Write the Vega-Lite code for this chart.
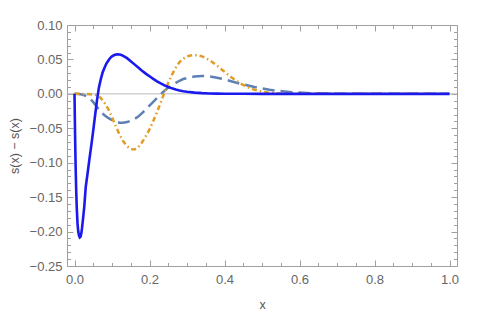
{
  "$schema": "https://vega.github.io/schema/vega-lite/v6.json",
  "width": 390,
  "height": 241,
  "autosize": "none",
  "padding": {"left": 67, "top": 25, "right": 28, "bottom": 49},
  "background": "white",
  "config": {
    "view": {"stroke": "#a0a0a0", "strokeWidth": 1},
    "font": "Liberation Sans",
    "axis": {"domain": false, "grid": false, "tickColor": "#a0a0a0", "labelColor": "#666666", "labelFontSize": 13, "titleColor": "#555555", "titleFontWeight": "normal", "titleFontSize": 12.5, "labelFont": "Liberation Sans", "titleFont": "Liberation Sans"}
  },
  "datasets": {
    "blue": [
      {"x": 0, "y": 0}, {"x": 0.0005, "y": -0.02}, {"x": 0.001, "y": -0.04}, {"x": 0.002, "y": -0.075},
      {"x": 0.003, "y": -0.105}, {"x": 0.0045, "y": -0.14}, {"x": 0.006, "y": -0.165}, {"x": 0.008, "y": -0.188},
      {"x": 0.010, "y": -0.2}, {"x": 0.012, "y": -0.206}, {"x": 0.014, "y": -0.2085}, {"x": 0.016, "y": -0.2075},
      {"x": 0.018, "y": -0.203}, {"x": 0.020, "y": -0.195}, {"x": 0.023, "y": -0.18}, {"x": 0.026, "y": -0.164},
      {"x": 0.030, "y": -0.135}, {"x": 0.035, "y": -0.115}, {"x": 0.040, "y": -0.094}, {"x": 0.045, "y": -0.074},
      {"x": 0.050, "y": -0.053}, {"x": 0.055, "y": -0.031}, {"x": 0.060, "y": -0.009}, {"x": 0.065, "y": 0.009},
      {"x": 0.070, "y": 0.021}, {"x": 0.075, "y": 0.031}, {"x": 0.080, "y": 0.038}, {"x": 0.085, "y": 0.044},
      {"x": 0.090, "y": 0.048}, {"x": 0.095, "y": 0.052}, {"x": 0.100, "y": 0.0545}, {"x": 0.105, "y": 0.056},
      {"x": 0.110, "y": 0.057}, {"x": 0.115, "y": 0.0575}, {"x": 0.120, "y": 0.0572}, {"x": 0.125, "y": 0.0564},
      {"x": 0.13, "y": 0.0552}, {"x": 0.14, "y": 0.0518}, {"x": 0.15, "y": 0.0475}, {"x": 0.16, "y": 0.0428},
      {"x": 0.17, "y": 0.0382}, {"x": 0.18, "y": 0.0337}, {"x": 0.19, "y": 0.0294}, {"x": 0.20, "y": 0.0255},
      {"x": 0.21, "y": 0.0217}, {"x": 0.22, "y": 0.0182}, {"x": 0.23, "y": 0.0151}, {"x": 0.24, "y": 0.0124},
      {"x": 0.25, "y": 0.01}, {"x": 0.26, "y": 0.008}, {"x": 0.27, "y": 0.0064}, {"x": 0.28, "y": 0.005},
      {"x": 0.29, "y": 0.0039}, {"x": 0.30, "y": 0.003}, {"x": 0.32, "y": 0.0018}, {"x": 0.34, "y": 0.001},
      {"x": 0.36, "y": 0.0006}, {"x": 0.38, "y": 0.0003}, {"x": 0.40, "y": 0.0002}, {"x": 0.45, "y": 0.00005},
      {"x": 0.5, "y": 0}, {"x": 1.0, "y": 0}
    ],
    "orange": [
      {"x": 0, "y": 0}, {"x": 0.02, "y": 0}, {"x": 0.04, "y": -0.0005}, {"x": 0.05, "y": -0.001},
      {"x": 0.06, "y": -0.002}, {"x": 0.07, "y": -0.006}, {"x": 0.08, "y": -0.013}, {"x": 0.09, "y": -0.022},
      {"x": 0.10, "y": -0.034}, {"x": 0.11, "y": -0.047}, {"x": 0.12, "y": -0.059}, {"x": 0.13, "y": -0.069},
      {"x": 0.14, "y": -0.076}, {"x": 0.15, "y": -0.0802}, {"x": 0.16, "y": -0.0808}, {"x": 0.17, "y": -0.0775},
      {"x": 0.18, "y": -0.0705}, {"x": 0.19, "y": -0.0615}, {"x": 0.20, "y": -0.0515}, {"x": 0.21, "y": -0.0395},
      {"x": 0.22, "y": -0.0265}, {"x": 0.23, "y": -0.0125}, {"x": 0.24, "y": 0.002}, {"x": 0.25, "y": 0.016},
      {"x": 0.26, "y": 0.028}, {"x": 0.27, "y": 0.038}, {"x": 0.28, "y": 0.046}, {"x": 0.29, "y": 0.051},
      {"x": 0.30, "y": 0.0545}, {"x": 0.31, "y": 0.0558}, {"x": 0.32, "y": 0.0562}, {"x": 0.33, "y": 0.0558},
      {"x": 0.34, "y": 0.0545}, {"x": 0.36, "y": 0.049}, {"x": 0.38, "y": 0.041}, {"x": 0.40, "y": 0.032},
      {"x": 0.42, "y": 0.0235}, {"x": 0.44, "y": 0.016}, {"x": 0.46, "y": 0.01}, {"x": 0.48, "y": 0.006},
      {"x": 0.50, "y": 0.003}, {"x": 0.52, "y": 0.0015}, {"x": 0.55, "y": 0.0005}, {"x": 0.6, "y": 0},
      {"x": 1.0, "y": 0}
    ],
    "dash": [
      {"x": 0, "y": 0}, {"x": 0.01, "y": -0.0003}, {"x": 0.02, "y": -0.001}, {"x": 0.03, "y": -0.003},
      {"x": 0.04, "y": -0.006}, {"x": 0.05, "y": -0.012}, {"x": 0.06, "y": -0.019}, {"x": 0.07, "y": -0.026},
      {"x": 0.08, "y": -0.031}, {"x": 0.09, "y": -0.035}, {"x": 0.10, "y": -0.038}, {"x": 0.11, "y": -0.0405},
      {"x": 0.12, "y": -0.0418}, {"x": 0.13, "y": -0.042}, {"x": 0.14, "y": -0.041}, {"x": 0.15, "y": -0.039},
      {"x": 0.16, "y": -0.0365}, {"x": 0.17, "y": -0.033}, {"x": 0.18, "y": -0.028}, {"x": 0.19, "y": -0.023},
      {"x": 0.20, "y": -0.017}, {"x": 0.21, "y": -0.0115}, {"x": 0.22, "y": -0.006}, {"x": 0.23, "y": -0.0005},
      {"x": 0.24, "y": 0.0045}, {"x": 0.25, "y": 0.009}, {"x": 0.26, "y": 0.0125}, {"x": 0.27, "y": 0.016},
      {"x": 0.28, "y": 0.019}, {"x": 0.29, "y": 0.0215}, {"x": 0.30, "y": 0.023}, {"x": 0.32, "y": 0.0252},
      {"x": 0.34, "y": 0.026}, {"x": 0.36, "y": 0.0255}, {"x": 0.38, "y": 0.0235}, {"x": 0.40, "y": 0.021},
      {"x": 0.42, "y": 0.018}, {"x": 0.44, "y": 0.015}, {"x": 0.46, "y": 0.0125}, {"x": 0.48, "y": 0.01},
      {"x": 0.50, "y": 0.0078}, {"x": 0.52, "y": 0.006}, {"x": 0.54, "y": 0.0045}, {"x": 0.56, "y": 0.0035},
      {"x": 0.58, "y": 0.0025}, {"x": 0.60, "y": 0.0018}, {"x": 0.63, "y": 0.001}, {"x": 0.66, "y": 0.0005},
      {"x": 0.70, "y": 0.0002}, {"x": 0.75, "y": 0}, {"x": 1.0, "y": 0}
    ],
    "zero": [{"x0": -0.02, "x1": 1.02, "y": 0}]
  },
  "resolve": {"axis": {"x": "independent", "y": "independent"}},
  "layer": [
    {
      "data": {"name": "zero"},
      "mark": {"type": "rule", "color": "#bbbbbb", "strokeWidth": 1},
      "encoding": {
        "x": {"field": "x0", "type": "quantitative", "scale": {"domain": [-0.02, 1.02], "nice": false, "zero": false},
          "axis": {"orient": "top", "values": [0.05, 0.1, 0.15, 0.25, 0.3, 0.35, 0.45, 0.5, 0.55, 0.65, 0.7, 0.75, 0.85, 0.9, 0.95], "labels": false, "tickSize": -3.5, "title": null}},
        "x2": {"field": "x1"},
        "y": {"field": "y", "type": "quantitative", "scale": {"domain": [-0.25, 0.1], "nice": false, "zero": false},
          "axis": {"orient": "right", "values": [-0.24, -0.23, -0.22, -0.21, -0.19, -0.18, -0.17, -0.16, -0.14, -0.13, -0.12, -0.11, -0.09, -0.08, -0.07, -0.06, -0.04, -0.03, -0.02, -0.01, 0.01, 0.02, 0.03, 0.04, 0.06, 0.07, 0.08, 0.09], "labels": false, "tickSize": -3.5, "title": null}}
      }
    },
    {
      "data": {"name": "dash"},
      "mark": {"type": "line", "color": "#5e81b5", "strokeWidth": 2.5, "strokeDash": [12, 6], "clip": true},
      "encoding": {
        "x": {"field": "x", "type": "quantitative", "axis": {"orient": "top", "values": [0, 0.2, 0.4, 0.6, 0.8, 1.0], "labels": false, "tickSize": -6, "title": null}},
        "y": {"field": "y", "type": "quantitative", "axis": {"orient": "right", "values": [-0.25, -0.2, -0.15, -0.1, -0.05, 0, 0.05, 0.1], "labels": false, "tickSize": -6, "title": null}}
      }
    },
    {
      "data": {"name": "orange"},
      "mark": {"type": "line", "color": "#e19c24", "strokeWidth": 2.5, "strokeDash": [5, 3, 1.5, 3], "clip": true},
      "encoding": {
        "x": {"field": "x", "type": "quantitative", "axis": {"orient": "bottom", "values": [0.05, 0.1, 0.15, 0.25, 0.3, 0.35, 0.45, 0.5, 0.55, 0.65, 0.7, 0.75, 0.85, 0.9, 0.95], "labels": false, "tickSize": -3.5, "title": null}},
        "y": {"field": "y", "type": "quantitative", "axis": {"orient": "left", "values": [-0.24, -0.23, -0.22, -0.21, -0.19, -0.18, -0.17, -0.16, -0.14, -0.13, -0.12, -0.11, -0.09, -0.08, -0.07, -0.06, -0.04, -0.03, -0.02, -0.01, 0.01, 0.02, 0.03, 0.04, 0.06, 0.07, 0.08, 0.09], "labels": false, "tickSize": -3.5, "title": null}}
      }
    },
    {
      "data": {"name": "blue"},
      "mark": {"type": "line", "color": "#1a1aef", "strokeWidth": 2.6, "clip": true},
      "encoding": {
        "x": {"field": "x", "type": "quantitative", "axis": {"orient": "bottom", "values": [0, 0.2, 0.4, 0.6, 0.8, 1.0], "format": ".1f", "tickSize": -6, "labelPadding": 13, "title": "x", "titlePadding": 12}},
        "y": {"field": "y", "type": "quantitative", "axis": {"orient": "left", "values": [-0.25, -0.2, -0.15, -0.1, -0.05, 0, 0.05, 0.1], "labelExpr": "replace(format(datum.value, '.2f'), '-', '\u2212 ')", "tickSize": -6, "labelPadding": 11, "title": "s(x) \u2212 s(x)", "titlePadding": 8}}
      }
    }
  ]
}
